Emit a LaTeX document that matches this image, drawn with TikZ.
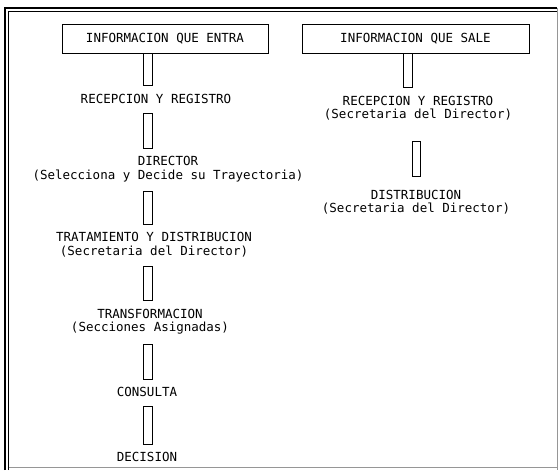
\documentclass[tikz,border=0pt]{standalone}
\usepackage{fontspec}
\newfontfamily\dotfont{DejaVu Sans Mono}
\usetikzlibrary{positioning, calc}
\definecolor{scangray}{RGB}{150, 150, 150}
\tikzset{
  infobox/.style        = {rectangle, draw, line width=1pt, minimum height=29pt, inner sep=0pt, font=\dotfont\fontsize{12.5}{14}\selectfont},
  stage/.style          = {inner sep=0pt, align=center, font=\dotfont\fontsize{12.5}{13.5}\selectfont},
  stembox/.style        = {draw, line width=1pt},
  frameline/.style      = {line width=1.2pt},
  frameedge/.style      = {scangray, line width=0.8pt},
}
% tubo entre dos etapas: columna, nodo de arriba, nodo de abajo
\newcommand{\stem}[3]{%
  \draw[stembox] ($(#1 |- #2.south)+(-4.5,10)$) rectangle ($(#1 |- #3.north)+(4.5,-8)$);}

\begin{document}
\begin{tikzpicture}[x=1pt, y=-1pt]
  \useasboundingbox (0,0) rectangle (559,471);

  % marco
  \draw[frameline] (5,470) -- (5,8) -- (557,8);
  \draw[frameline] (8.5,470) -- (8.5,11.5) -- (557,11.5);
  \draw[frameedge] (557,8) -- (557,470);
  \draw[frameedge] (8.5,467) -- (557,467);

  \node[infobox, minimum width=206pt] (entra) at (165,38.5) {INFORMACION QUE ENTRA};
  \node[infobox, minimum width=227pt] (sale) at (415.5,38.5) {INFORMACION QUE SALE};

  \coordinate (colL) at (147.5,0);
  \coordinate (colR) at (407.5,0);
  \coordinate (colRb) at (416,0);

  % informacion que entra
  \node[stage] (recIn) at (156,99) {RECEPCION Y REGISTRO};
  \node[stage] (dir) at (168,169) {DIRECTOR\\(Selecciona y Decide su Trayectoria)};
  \node[stage] (trat) at (154,244.5) {TRATAMIENTO Y DISTRIBUCION\\(Secretaria del Director)};
  \node[stage] (transf) at (150,321.5) {TRANSFORMACION\\(Secciones Asignadas)};
  \node[stage] (cons) at (147,392) {CONSULTA};
  \node[stage] (dec) at (147,457) {DECISION};

  % informacion que sale
  \node[stage] (recOut) at (418,108) {RECEPCION Y REGISTRO\\(Secretaria del Director)};
  \node[stage] (dist) at (416,202) {DISTRIBUCION\\(Secretaria del Director)};

  \draw[stembox] ($(colL |- entra.south)+(-4.5,0)$) rectangle ($(colL |- recIn.north)+(4.5,-8.5)$);
  \stem{colL}{recIn}{dir}
  \stem{colL}{dir}{trat}
  \stem{colL}{trat}{transf}
  \stem{colL}{transf}{cons}
  \stem{colL}{cons}{dec}

  \draw[stembox] ($(colR |- sale.south)+(-4.5,0)$) rectangle ($(colR |- recOut.north)+(4.5,-8.5)$);
  \draw[stembox] ($(colRb |- recOut.south)+(-4,21)$) rectangle ($(colRb |- dist.north)+(4,-13)$);
\end{tikzpicture}
\end{document}
